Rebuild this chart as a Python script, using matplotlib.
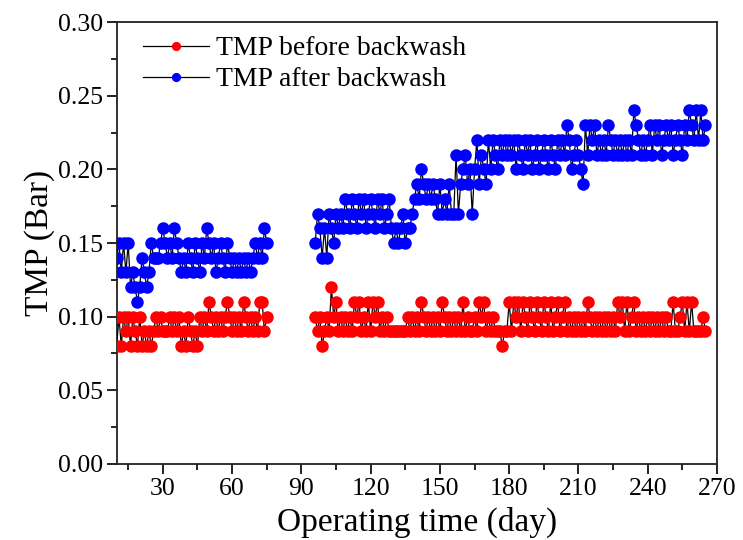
import numpy as np
import matplotlib
matplotlib.use("Agg")
import matplotlib.pyplot as plt
from matplotlib.ticker import MultipleLocator, FormatStrFormatter

# ---- data ----
days_seg1 = list(range(10, 76))
days_seg2 = list(range(96, 266))

before_seg1 = [0.08, 0.10, 0.08, 0.10, 0.09, 0.10, 0.08, 0.10, 0.09, 0.08,
               0.10, 0.08, 0.09, 0.08, 0.09, 0.08, 0.09, 0.10, 0.09, 0.10,
               0.09, 0.09, 0.09, 0.10, 0.09, 0.10, 0.09, 0.10, 0.08, 0.09,
               0.08, 0.10, 0.09, 0.08, 0.09, 0.08, 0.10, 0.09, 0.10, 0.09,
               0.11, 0.10, 0.09, 0.10, 0.09, 0.10, 0.09, 0.10, 0.11, 0.10,
               0.09, 0.10, 0.09, 0.10, 0.09, 0.11, 0.10, 0.09, 0.10, 0.09,
               0.10, 0.09, 0.11, 0.11, 0.09, 0.10]
after_seg1 = [0.14, 0.15, 0.13, 0.15, 0.13, 0.15, 0.12, 0.13, 0.12, 0.11,
              0.12, 0.14, 0.13, 0.12, 0.13, 0.15, 0.14, 0.14, 0.14, 0.15,
              0.16, 0.15, 0.14, 0.15, 0.14, 0.16, 0.15, 0.14, 0.13, 0.14,
              0.13, 0.15, 0.14, 0.13, 0.15, 0.14, 0.13, 0.15, 0.14, 0.16,
              0.15, 0.14, 0.15, 0.13, 0.14, 0.15, 0.14, 0.13, 0.15, 0.14,
              0.13, 0.14, 0.13, 0.14, 0.13, 0.14, 0.13, 0.14, 0.13, 0.14,
              0.15, 0.14, 0.15, 0.14, 0.16, 0.15]

before_seg2 = [0.10, 0.09, 0.10, 0.08, 0.09, 0.10, 0.09, 0.12, 0.10, 0.11,
               0.09, 0.10, 0.09, 0.10, 0.09, 0.10, 0.09, 0.11, 0.10, 0.11,
               0.09, 0.10, 0.09, 0.11, 0.09, 0.11, 0.10, 0.11, 0.09, 0.10,
               0.09, 0.10, 0.09, 0.09, 0.09, 0.09, 0.09, 0.09, 0.09, 0.09,
               0.10, 0.09, 0.10, 0.09, 0.10, 0.09, 0.11, 0.10, 0.09, 0.10,
               0.09, 0.10, 0.09, 0.10, 0.09, 0.11, 0.10, 0.09, 0.10, 0.09,
               0.10, 0.09, 0.10, 0.09, 0.11, 0.09, 0.10, 0.09, 0.09, 0.10,
               0.09, 0.11, 0.10, 0.11, 0.09, 0.10, 0.09, 0.10, 0.09, 0.09,
               0.09, 0.08, 0.09, 0.09, 0.11, 0.09, 0.11, 0.10, 0.11, 0.09,
               0.11, 0.10, 0.09, 0.11, 0.10, 0.09, 0.11, 0.10, 0.09, 0.11,
               0.10, 0.09, 0.11, 0.09, 0.10, 0.11, 0.09, 0.10, 0.11, 0.09,
               0.10, 0.09, 0.10, 0.09, 0.10, 0.09, 0.10, 0.09, 0.11, 0.10,
               0.09, 0.10, 0.09, 0.10, 0.09, 0.10, 0.09, 0.10, 0.09, 0.10,
               0.09, 0.11, 0.10, 0.11, 0.09, 0.11, 0.09, 0.10, 0.11, 0.09,
               0.10, 0.09, 0.10, 0.09, 0.10, 0.09, 0.10, 0.09, 0.10, 0.09,
               0.10, 0.09, 0.10, 0.09, 0.09, 0.11, 0.09, 0.09, 0.10, 0.11,
               0.09, 0.11, 0.09, 0.11, 0.09, 0.09, 0.09, 0.09, 0.10, 0.09]
after_seg2 = [0.15, 0.17, 0.16, 0.14, 0.16, 0.14, 0.17, 0.16, 0.15, 0.17,
              0.16, 0.17, 0.16, 0.18, 0.17, 0.16, 0.18, 0.17, 0.16, 0.18,
              0.17, 0.18, 0.16, 0.17, 0.18, 0.17, 0.16, 0.18, 0.17, 0.18,
              0.16, 0.17, 0.18, 0.16, 0.15, 0.16, 0.15, 0.16, 0.17, 0.15,
              0.16, 0.16, 0.17, 0.18, 0.19, 0.18, 0.20, 0.19, 0.18, 0.19,
              0.18, 0.19, 0.18, 0.17, 0.19, 0.17, 0.18, 0.17, 0.19, 0.17,
              0.17, 0.21, 0.17, 0.19, 0.20, 0.21, 0.19, 0.20, 0.17, 0.20,
              0.22, 0.19, 0.21, 0.20, 0.19, 0.22, 0.20, 0.22, 0.21, 0.20,
              0.22, 0.21, 0.22, 0.21, 0.22, 0.21, 0.22, 0.20, 0.22, 0.21,
              0.20, 0.22, 0.21, 0.22, 0.20, 0.21, 0.22, 0.20, 0.21, 0.22,
              0.21, 0.20, 0.22, 0.21, 0.20, 0.22, 0.21, 0.22, 0.21, 0.23,
              0.22, 0.20, 0.21, 0.22, 0.21, 0.20, 0.19, 0.23, 0.21, 0.23,
              0.22, 0.23, 0.21, 0.22, 0.21, 0.22, 0.21, 0.23, 0.22, 0.21,
              0.22, 0.21, 0.22, 0.21, 0.22, 0.21, 0.22, 0.21, 0.24, 0.23,
              0.22, 0.21, 0.22, 0.21, 0.22, 0.23, 0.21, 0.23, 0.22, 0.23,
              0.21, 0.22, 0.23, 0.22, 0.23, 0.21, 0.22, 0.23, 0.22, 0.21,
              0.23, 0.22, 0.24, 0.23, 0.22, 0.24, 0.22, 0.24, 0.22, 0.23]

x_ticks = [30, 60, 90, 120, 150, 180, 210, 240, 270]

# ---- plot ----
plt.rcParams['font.family'] = ['Liberation Serif', 'DejaVu Serif']

fig = plt.figure(figsize=(7.43, 5.40), dpi=100)
ax = fig.add_axes([0.157, 0.141, 0.808, 0.818])

# join segments with a NaN break so no line is drawn across the gap
x_all = np.array(days_seg1 + [np.nan] + days_seg2, dtype=float)
before_all = np.array(before_seg1 + [np.nan] + before_seg2, dtype=float)
after_all = np.array(after_seg1 + [np.nan] + after_seg2, dtype=float)

ms = 8
ax.plot(x_all, before_all, '-', color='black', lw=0.9, marker='o', ms=ms,
        markerfacecolor='#ff0000', markeredgecolor='#ff0000',
        label='TMP before backwash', zorder=3)
ax.plot(x_all, after_all, '-', color='black', lw=0.9, marker='o', ms=ms,
        markerfacecolor='#0000ff', markeredgecolor='#0000ff',
        label='TMP after backwash', zorder=3)

ax.set_xlim(10, 270)
ax.set_ylim(0, 0.30)
ax.set_xticks(x_ticks)
ax.xaxis.set_minor_locator(MultipleLocator(15))
ax.yaxis.set_major_locator(MultipleLocator(0.05))
ax.yaxis.set_minor_locator(MultipleLocator(0.025))
ax.yaxis.set_major_formatter(FormatStrFormatter('%.2f'))

ax.tick_params(which='major', direction='out', length=7, width=1.2,
               labelsize=18.5, colors='black', pad=3)
ax.tick_params(which='minor', direction='out', length=4, width=1.2)
ax.tick_params(top=False, right=False, which='both')
for sp in ax.spines.values():
    sp.set_linewidth(1.3)
    sp.set_color('#222222')

ax.set_xlabel('Operating time (day)', fontsize=24, labelpad=5)
ax.set_ylabel('TMP (Bar)', fontsize=24, labelpad=2)

leg = ax.legend(loc='upper left', bbox_to_anchor=(0.02, 1.0), frameon=False,
                fontsize=20, handlelength=2.4, handletextpad=0.25,
                markerscale=0.7, labelspacing=0.2, borderaxespad=0.1)

fig.savefig('out.png', dpi=100)
